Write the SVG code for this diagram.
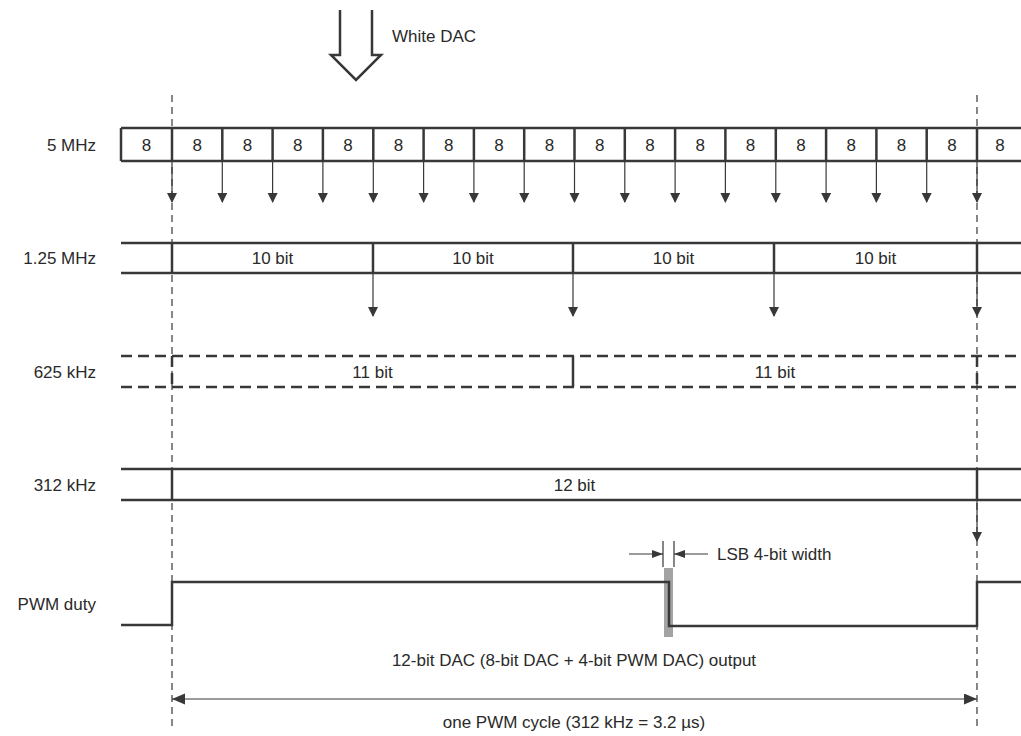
<svg xmlns="http://www.w3.org/2000/svg" width="1021" height="736" viewBox="0 0 1021 736">
<style>
text{font-family:"Liberation Sans",Arial,sans-serif;font-size:17px;fill:#2a2a2a}
.lbl{text-anchor:end}
.c{text-anchor:middle}
.thick{stroke:#383838;stroke-width:2.5;fill:none}
.dsh{stroke:#383838;stroke-width:2.5;fill:none;stroke-dasharray:11,6}
.thin{stroke:#383838;stroke-width:1.2;fill:none}
.guide{stroke:#383838;stroke-width:1.2;fill:none;stroke-dasharray:7,5}
.arr{stroke:#383838;stroke-width:1.2;fill:none;marker-end:url(#ah)}
</style>
<defs>
<marker id="ah" markerUnits="userSpaceOnUse" markerWidth="10" markerHeight="12" refX="9" refY="5" orient="auto">
<path d="M0,0 L10,5 L0,10 Z" fill="#383838"/>
</marker>
<marker id="ahs" markerUnits="userSpaceOnUse" markerWidth="12" markerHeight="10" refX="11" refY="4" orient="auto">
<path d="M0,0 L11,4 L0,8 Z" fill="#383838"/>
</marker>
<marker id="ahb" markerUnits="userSpaceOnUse" markerWidth="14" markerHeight="12" refX="13" refY="5.5" orient="auto-start-reverse">
<path d="M0,0 L13,5.5 L0,11 Z" fill="#383838"/>
</marker>
</defs>

<g id="input-arrow">
<path class="thick" d="M340,10 V55 H331 L356,80 L381,55 H372 V10" stroke-width="2"/>
<text x="392" y="42">White DAC</text>
</g>

<g id="guides">
<line class="guide" x1="172" y1="95" x2="172" y2="730"/>
<line class="guide" x1="977" y1="95" x2="977" y2="730"/>
</g>

<g id="row-5mhz">
<text class="lbl" x="96" y="151">5 MHz</text>
<path class="thick" d="M121,128 H1021 M121,161 H1021 M121,128 V161"/>
<path class="thick" d="M172,128V161 M222.3,128V161 M272.6,128V161 M322.9,128V161 M373.3,128V161 M423.6,128V161 M473.9,128V161 M524.2,128V161 M574.5,128V161 M624.8,128V161 M675.1,128V161 M725.4,128V161 M775.8,128V161 M826.1,128V161 M876.4,128V161 M926.7,128V161 M977,128V161"/>
<text class="c" x="146.5" y="151">8</text>
<text class="c" x="197.2" y="151">8</text>
<text class="c" x="247.5" y="151">8</text>
<text class="c" x="297.8" y="151">8</text>
<text class="c" x="348.1" y="151">8</text>
<text class="c" x="398.4" y="151">8</text>
<text class="c" x="448.7" y="151">8</text>
<text class="c" x="499" y="151">8</text>
<text class="c" x="549.4" y="151">8</text>
<text class="c" x="599.7" y="151">8</text>
<text class="c" x="650" y="151">8</text>
<text class="c" x="700.3" y="151">8</text>
<text class="c" x="750.6" y="151">8</text>
<text class="c" x="800.9" y="151">8</text>
<text class="c" x="851.2" y="151">8</text>
<text class="c" x="901.6" y="151">8</text>
<text class="c" x="951.9" y="151">8</text>
<text class="c" x="1000" y="151">8</text>
</g>

<g id="row-1-25mhz">
<text class="lbl" x="96" y="264">1.25 MHz</text>
<path class="thick" d="M121,243 H1021 M121,273 H1021 M172,243V273 M373,243V273 M573,243V273 M774,243V273 M977,243V273"/>
<text class="c" x="272.5" y="264">10 bit</text>
<text class="c" x="473" y="264">10 bit</text>
<text class="c" x="673.5" y="264">10 bit</text>
<text class="c" x="875.5" y="264">10 bit</text>
</g>

<g id="row-625khz">
<text class="lbl" x="96" y="378">625 kHz</text>
<path class="dsh" d="M121,356 H1021 M121,387 H1021"/>
<path class="dsh" d="M172,356V387 M977,356V387" stroke-dasharray="14,4,10,4"/>
<path class="thick" d="M573,356V387"/>
<text class="c" x="372.5" y="378">11 bit</text>
<text class="c" x="775" y="378">11 bit</text>
</g>

<g id="row-312khz">
<text class="lbl" x="96" y="491">312 kHz</text>
<path class="thick" d="M121,469 H1021 M121,500 H1021 M172,469V500 M977,469V500"/>
<text class="c" x="574.5" y="491">12 bit</text>
</g>

<g id="row-pwm">
<text class="lbl" x="96" y="610">PWM duty</text>
<rect x="664" y="568" width="9" height="69" fill="#a3a3a3"/>
<path class="thick" d="M121,625 H172 V582 H669 V626 H977 V582 H1021"/>
<path class="thin" d="M663,541 V567 M674,541 V567"/>
<text x="717" y="560">LSB 4-bit width</text>
<text class="c" x="574" y="666">12-bit DAC (8-bit DAC + 4-bit PWM DAC) output</text>
<text class="c" x="574" y="728">one PWM cycle (312 kHz = 3.2 µs)</text>
</g>

<g id="connectors">
<line class="arr" x1="172" y1="161" x2="172" y2="202"/>
<line class="arr" x1="222.3" y1="161" x2="222.3" y2="202"/>
<line class="arr" x1="272.6" y1="161" x2="272.6" y2="202"/>
<line class="arr" x1="322.9" y1="161" x2="322.9" y2="202"/>
<line class="arr" x1="373.3" y1="161" x2="373.3" y2="202"/>
<line class="arr" x1="423.6" y1="161" x2="423.6" y2="202"/>
<line class="arr" x1="473.9" y1="161" x2="473.9" y2="202"/>
<line class="arr" x1="524.2" y1="161" x2="524.2" y2="202"/>
<line class="arr" x1="574.5" y1="161" x2="574.5" y2="202"/>
<line class="arr" x1="624.8" y1="161" x2="624.8" y2="202"/>
<line class="arr" x1="675.1" y1="161" x2="675.1" y2="202"/>
<line class="arr" x1="725.4" y1="161" x2="725.4" y2="202"/>
<line class="arr" x1="775.8" y1="161" x2="775.8" y2="202"/>
<line class="arr" x1="826.1" y1="161" x2="826.1" y2="202"/>
<line class="arr" x1="876.4" y1="161" x2="876.4" y2="202"/>
<line class="arr" x1="926.7" y1="161" x2="926.7" y2="202"/>
<line class="arr" x1="977" y1="161" x2="977" y2="202"/>
<line class="arr" x1="373" y1="273" x2="373" y2="316"/>
<line class="arr" x1="573" y1="273" x2="573" y2="316"/>
<line class="arr" x1="774" y1="273" x2="774" y2="316"/>
<line class="arr" x1="977" y1="273" x2="977" y2="316"/>
<line class="arr" x1="977" y1="500" x2="977" y2="541"/>
<line class="thin" x1="629" y1="554" x2="663" y2="554" marker-end="url(#ahs)"/>
<line class="thin" x1="708" y1="554" x2="674" y2="554" marker-end="url(#ahs)"/>
<line class="thin" x1="172" y1="699" x2="977" y2="699" marker-start="url(#ahb)" marker-end="url(#ahb)"/>
</g>
</svg>
